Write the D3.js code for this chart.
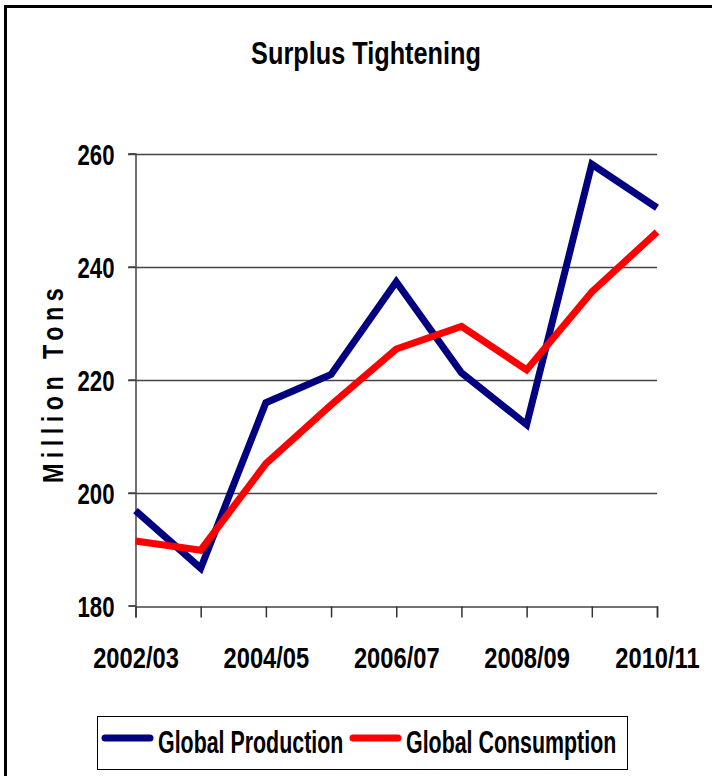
<!DOCTYPE html>
<html lang="en">
<head>
    <meta charset="UTF-8">
    <title>Surplus Tightening</title>
    <script src="https://d3js.org/d3.v7.min.js"></script>
    <style>
        body { margin: 0; background: #fff; }
        svg text { font-family: "Liberation Sans", Arial, sans-serif; font-weight: bold; fill: #000; }
        .title { font-size: 32px; }
        .tick text { font-size: 30px; }
        .ytitle { font-size: 30px; letter-spacing: 7px; }
        .legend text { font-size: 31px; }
    </style>
</head>
<body>
    <svg width="712" height="776"></svg>
    <script>
        var categories = ["2002/03", "2003/04", "2004/05", "2005/06", "2006/07", "2007/08", "2008/09", "2009/10", "2010/11"];
        var production = [196.8, 186.6, 215.9, 220.9, 237.3, 221.2, 212.0, 258.1, 250.4];
        var consumption = [191.4, 189.8, 205.1, 215.5, 225.4, 229.4, 221.7, 235.5, 246.1];
        var yTicks = [180, 200, 220, 240, 260];
        var xLabels = ["2002/03", "2004/05", "2006/07", "2008/09", "2010/11"];

        var svg = d3.select("svg");

        // squeeze text horizontally (the original uses a narrow bold face)
        function condense(sel, sx) {
            sel.each(function() {
                var t = d3.select(this);
                var tx = +t.attr("x") || 0, ty = +t.attr("y") || 0;
                t.attr("x", null).attr("y", null)
                 .attr("transform", "translate(" + tx + "," + ty + ") scale(" + sx + ",1)");
            });
        }

        // outer frame (runs off the right and bottom edges)
        svg.append("rect")
            .attr("x", 5.5).attr("y", 6.5)
            .attr("width", 740).attr("height", 800)
            .attr("fill", "none").attr("stroke", "#000").attr("stroke-width", 3);

        svg.append("text").attr("class", "title")
            .attr("x", 366).attr("y", 64)
            .attr("text-anchor", "middle")
            .text("Surplus Tightening")
            .call(condense, 0.79);

        var x = d3.scalePoint().domain(categories).range([135.5, 657]);
        var y = d3.scaleLinear().domain([180, 260]).range([605.5, 153.5]);

        // gridlines
        svg.append("g").selectAll("line")
            .data(yTicks.filter(function(d) { return d > 180; }))
            .enter().append("line")
            .attr("x1", 128).attr("x2", 657)
            .attr("y1", function(d) { return Math.round(y(d)) + 0.5; })
            .attr("y2", function(d) { return Math.round(y(d)) + 0.5; })
            .attr("stroke", "#444").attr("stroke-width", 1.5);

        // y axis
        var yAxis = svg.append("g")
            .attr("transform", "translate(135.5,0)")
            .call(d3.axisLeft(y).tickValues(yTicks).tickSize(7).tickPadding(14));
        yAxis.select(".domain").attr("stroke", "#444").attr("stroke-width", 1.5);
        yAxis.selectAll(".tick line").attr("stroke", "#444").attr("stroke-width", 1.5);
        yAxis.selectAll(".tick text").attr("dy", "0.36em").call(condense, 0.74);

        // x axis
        var xAxis = svg.append("g")
            .attr("transform", "translate(0," + (Math.round(y(180)) + 0.5) + ")")
            .call(d3.axisBottom(x).tickSize(11).tickPadding(29)
                .tickFormat(function(d) { return xLabels.indexOf(d) >= 0 ? d : ""; }));
        xAxis.select(".domain").attr("stroke", "#444").attr("stroke-width", 1.5);
        xAxis.selectAll(".tick line").attr("stroke", "#333").attr("stroke-width", 1.5);
        xAxis.selectAll(".tick text").attr("dy", "0.71em").call(condense, 0.79);

        svg.append("text").attr("class", "ytitle")
            .attr("transform", "translate(63,383) rotate(-90) scale(0.78,1)")
            .attr("text-anchor", "middle")
            .text("Million Tons");

        var line = d3.line()
            .x(function(d, i) { return x(categories[i]); })
            .y(function(d) { return y(d); });

        var series = [
            { name: "Global Production", values: production, color: "#000080" },
            { name: "Global Consumption", values: consumption, color: "#ff0000" }
        ];

        svg.append("g").selectAll("path")
            .data(series)
            .enter().append("path")
            .attr("d", function(d) { return line(d.values); })
            .attr("fill", "none")
            .attr("stroke", function(d) { return d.color; })
            .attr("stroke-width", 7)
            .attr("stroke-linejoin", "miter");

        // legend
        var legend = svg.append("g").attr("class", "legend");
        legend.append("rect")
            .attr("x", 97.5).attr("y", 716.5).attr("width", 530).attr("height", 53)
            .attr("fill", "#fff").attr("stroke", "#000").attr("stroke-width", 1);
        var lx = [105, 353];
        var items = legend.selectAll("g.item").data(series).enter().append("g").attr("class", "item");
        items.append("line")
            .attr("x1", function(d, i) { return lx[i]; })
            .attr("x2", function(d, i) { return lx[i] + 45; })
            .attr("y1", 738).attr("y2", 738)
            .attr("stroke", function(d) { return d.color; })
            .attr("stroke-width", 7).attr("stroke-linecap", "round");
        items.append("text")
            .attr("x", function(d, i) { return lx[i] + 53; })
            .attr("y", 753)
            .text(function(d) { return d.name; })
            .call(condense, 0.69);
    </script>
</body>
</html>
